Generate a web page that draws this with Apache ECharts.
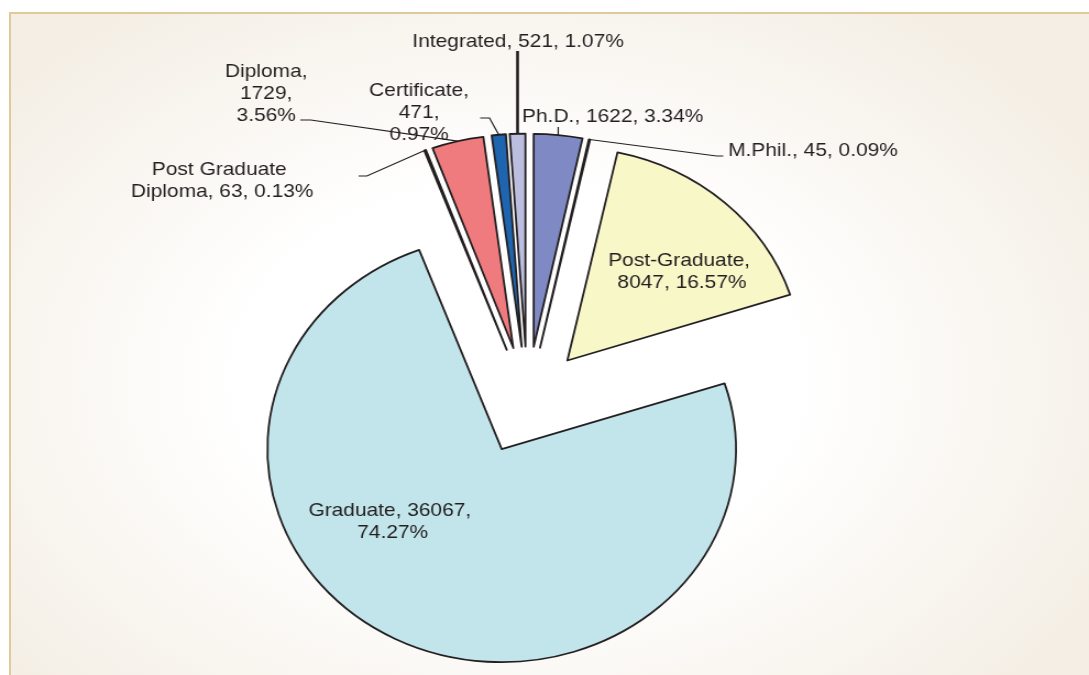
<!DOCTYPE html>
<html>
<head>
<meta charset="utf-8">
<script src="https://cdn.jsdelivr.net/npm/echarts@6/dist/echarts.min.js"></script>
<style>
  html, body { margin: 0; padding: 0; background: #ffffff; }
  #frame {
    position: absolute; left: 9px; top: 12px; width: 1080px; height: 663px;
    border-left: 2px solid #dfca9c; border-top: 2px solid #dfca9c;
    background: radial-gradient(ellipse 62% 70% at 47% 55%, #ffffff 0%, #ffffff 42%, #f4eee4 100%);
  }
  /* the source figure is stretched 1.1x horizontally */
  #chart {
    position: absolute; left: 0; top: 0; width: 990px; height: 675px;
    transform: scaleX(1.1); transform-origin: 0 0;
  }
</style>
</head>
<body>
<div id="frame"></div>
<div id="chart"></div>
<script>
// data, clockwise from 12 o'clock
const categories = ['Ph.D.', 'M.Phil.', 'Post-Graduate', 'Graduate', 'Post Graduate Diploma', 'Diploma', 'Certificate', 'Integrated'];
const counts = [1622, 45, 8047, 36067, 63, 1729, 471, 521];

// styles
const colors = ['#7f89c3', '#ffffff', '#f7f7c8', '#c1e5eb', '#ffffff', '#f07b7e', '#1e64af', '#bcbee0'];
const OFFSET = 54;
const INK = '#231f20';
const CENTER = [479.5, 400.5];
const RADIUS = 213;

// where each label sits (unstretched px); tail/knee = where the leader line meets the label
const labelSpots = [
  { x: 557, y: 116.5, align: 'center', knee: [507.5, 127], tail: [507.5, 127] },
  { x: 662, y: 151, align: 'left', knee: [651.5, 156], tail: [657.5, 156] },
  { x: 620, y: 272, align: 'center', width: 140 },
  { x: 357, y: 522, align: 'center', width: 160 },
  { x: 202, y: 181, align: 'center', width: 170, knee: [333.5, 176], tail: [326, 176] },
  { x: 242, y: 93.5, align: 'center', width: 80, knee: [282.5, 120], tail: [273, 120] },
  { x: 381, y: 112.5, align: 'center', width: 93, knee: [445, 118], tail: [436.5, 118] },
  { x: 471, y: 41.5, align: 'center', knee: [470.5, 51], tail: [470.5, 51], lineWidth: 2.6 }
];

// explode shift per slice (same rule as the pie's selectedOffset)
const total = counts.reduce((a, b) => a + b, 0);
let acc = 0;
const shifts = counts.map(v => {
  const mid = -Math.PI / 2 + (acc + v / 2) / total * Math.PI * 2;
  acc += v;
  return [Math.cos(mid) * OFFSET, Math.sin(mid) * OFFSET];
});

const chart = echarts.init(document.getElementById('chart'));

// visible exploded slices
const sliceData = categories.map((name, i) => ({
  name: name,
  value: counts[i],
  selected: true,
  itemStyle: { color: colors[i] }
}));

// same pie, transparent, carries the labels and leader lines
const labelData = categories.map((name, i) => {
  const spot = labelSpots[i];
  const hasLine = !!spot.tail;
  return {
    name: name,
    value: counts[i],
    label: {
      width: spot.width,
      overflow: spot.width ? 'break' : 'none'
    },
    labelLine: {
      show: hasLine,
      lineStyle: { width: spot.lineWidth || 1.2, color: INK }
    }
  };
});

chart.setOption({
  animation: false,
  series: [{
    type: 'pie',
    center: CENTER,
    radius: RADIUS,
    startAngle: 90,
    clockwise: true,
    selectedMode: 'multiple',
    selectedOffset: OFFSET,
    silent: true,
    itemStyle: { borderColor: INK, borderWidth: 1.8 },
    select: { itemStyle: { borderColor: INK, borderWidth: 1.8 } },
    label: { show: false },
    labelLine: { show: false },
    data: sliceData
  }, {
    type: 'pie',
    center: CENTER,
    radius: RADIUS,
    startAngle: 90,
    clockwise: true,
    selectedMode: false,
    avoidLabelOverlap: false,
    silent: true,
    z: 5,
    itemStyle: { color: 'rgba(0,0,0,0)', borderWidth: 0 },
    label: {
      show: true,
      position: 'outside',
      color: INK,
      fontFamily: '"Liberation Sans", Arial, sans-serif',
      fontSize: 19,
      lineHeight: 22,
      textBorderWidth: 0,
      formatter: '{b}, {c}, {d}%'
    },
    labelLine: { length: 10, length2: 0, smooth: false },
    labelLayout: function (params) {
      const i = params.dataIndex;
      const spot = labelSpots[i];
      const out = { x: spot.x, y: spot.y, align: spot.align, verticalAlign: 'middle' };
      if (spot.tail && params.labelLinePoints) {
        const s = shifts[i];
        const p0 = params.labelLinePoints[0];
        out.labelLinePoints = [[p0[0] + s[0], p0[1] + s[1]], spot.knee, spot.tail];
      }
      return out;
    },
    data: labelData
  }]
});
</script>
</body>
</html>
